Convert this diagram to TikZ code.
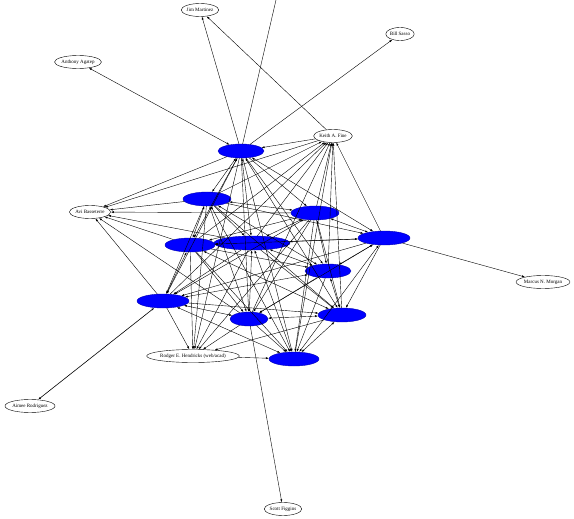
\documentclass[tikz,border=0pt]{standalone}
\usepackage{fontspec}
\setmainfont{Liberation Serif}
\usetikzlibrary{shapes.geometric,arrows.meta}
\begin{document}
\begin{tikzpicture}[
  x=1pt, y=-1pt,
  font=\fontsize{5}{6}\selectfont,
  person/.style={ellipse, draw, line width=0.4pt, fill=white, inner xsep=0pt, inner ysep=0pt, minimum height=13pt},
  core/.style={ellipse, draw=blue!70!black, line width=0.4pt, fill=blue, inner sep=0pt, minimum height=14pt},
  link/.style={line width=0.4pt, -{Latex[length=3pt,width=2pt]}},
  both/.style={line width=0.4pt, {Latex[length=3pt,width=2pt]}-{Latex[length=3pt,width=2pt]}}
]
\useasboundingbox (0,0) rectangle (574,519);
% kern (blaue knoten)
\node[core, minimum width=46pt] (b1) at (241,151) {};
\node[core, minimum width=48pt] (b2) at (207,199) {};
\node[core, minimum width=48pt] (b3) at (315,213) {};
\node[core, minimum width=52pt] (b4) at (384,238) {};
\node[core, minimum width=50pt] (b5) at (190,245) {};
\node[core, minimum width=76pt] (b6) at (252,243) {};
\node[core, minimum width=46pt] (b7) at (328,271) {};
\node[core, minimum width=52pt] (b8) at (163,301) {};
\node[core, minimum width=38pt] (b9) at (249,319) {};
\node[core, minimum width=48pt] (b10) at (342,315) {};
\node[core, minimum width=50pt] (b11) at (294,359) {};
% personen
\node[person] (jim) at (200,10) {Jim Martinez};
\node[person] (bill) at (400,34) {Bill Sasso};
\node[person] (anthony) at (78,62) {Anthony Agatep};
\node[person] (keith) at (333,136) {Keith A. Fine};
\node[person] (avi) at (90,212) {Avi Basseterre};
\node[person] (marcus) at (543,282) {Marcus N. Morgan};
\node[person] (rodger) at (193,356) {Rodger E. Hendricks (web/acad)};
\node[person] (aimee) at (30,406) {Aimee Rodriguez};
\node[person] (scott) at (283,509) {Scott Figgins};
\coordinate (top) at (276,0);
% kanten im kern
\foreach \i in {1,...,11} {
  \foreach \j in {1,...,11} {
    \ifnum\i<\j
      \pgfmathtruncatemacro\odd{mod(\i+\j,2)}
      \ifnum\odd=1 \draw[both] (b\i) -- (b\j); \else \draw[link] (b\i) -- (b\j); \fi
    \fi
  }
}
% kanten nach aussen
\foreach \s in {2,3,4,5,6,7,8,9,10,11}
  \draw[link] (b\s) -- (keith);
\foreach \s in {1,2,3,5,6,8,9}
  \draw[link] (b\s) -- (avi);
\foreach \s in {1,2,3,5,6,8,9,10}
  \draw[link] (b\s) -- (rodger);
\draw[link] (keith) -- (b1);
\draw[link] (keith) -- (avi);
\draw[link] (keith) -- (jim);
\draw[link] (b1) -- (jim);
\draw[link] (b1) -- (bill);
\draw[both] (b1) -- (anthony);
\draw[line width=0.4pt] (b1) -- (top);
\draw[link] (b4) -- (marcus);
\draw[both, line width=0.6pt] (b8) -- (aimee);
\draw[link] (b9) -- (scott);
\draw[link] (rodger) -- (b11);
\end{tikzpicture}
\end{document}
